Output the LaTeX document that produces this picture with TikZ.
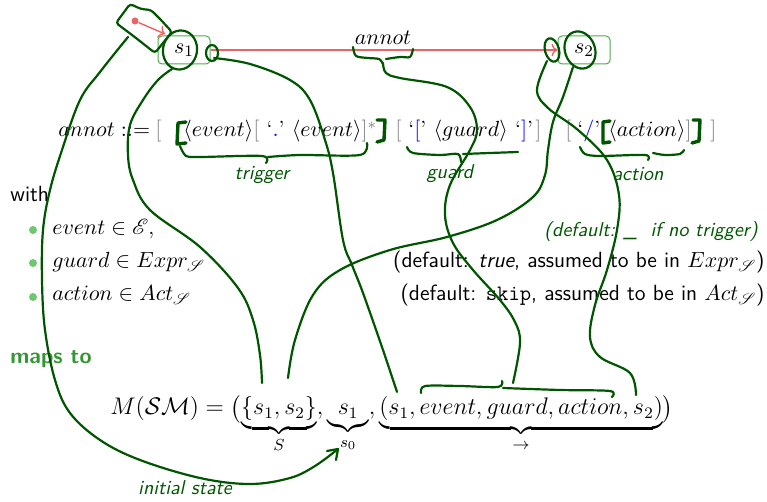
\documentclass[tikz,border=0pt]{standalone}
\usepackage{amsmath,amssymb}
\usepackage{mathrsfs}
\usetikzlibrary{arrows.meta,calc}
\definecolor{hand}{RGB}{0,85,0}
\definecolor{boxg}{RGB}{80,170,80}
\definecolor{mapg}{RGB}{50,150,50}
\definecolor{bul}{RGB}{110,200,110}
\definecolor{redl}{RGB}{235,100,100}
\tikzset{
  handline/.style={draw=hand, line width=1.1pt, line cap=round, line join=round},
  handbr/.style={draw=hand, line width=1.7pt, line cap=round, line join=round},
  stbox/.style={draw=boxg, rounded corners=2pt, minimum width=26pt, minimum height=14pt, line width=0.5pt, inner sep=0pt},
  txt/.style={inner sep=0pt, anchor=base west},
  redarrow/.style={draw=redl, line width=0.7pt, -{To[length=3pt]}},
  handtxt/.style={text=hand, font=\fontsize{10}{12}\selectfont\sffamily\slshape, inner sep=0pt},
}
\begin{document}
\begin{tikzpicture}[x=0.5pt,y=-0.5pt, font=\fontsize{11}{13}\selectfont]
\useasboundingbox (0,0) rectangle (767,502);
% states
\node[stbox] (s1) at (184,50) {$s_1$};
\node[stbox] (s2) at (584,50) {$s_2$};
\draw[redarrow] (s1) -- (s2);
\node[txt, anchor=base] (an) at (383,45) {$annot$};
\node[circle, fill=redl, inner sep=0pt, minimum size=3.5pt] (dot) at (135,21) {};
\coordinate (s1in) at (165,34);
\draw[redarrow] (dot) -- (s1in);
% grammar line
\node[txt] (g1) at (58,137) {$annot ::=$};
\node[txt, text=gray] (gb1) at (155,137) {$[$};
\node[txt] (g2) at (183,137) {$\langle event\rangle{\color{gray}[}\ \text{`}{\color{blue}.}\text{'}\ \langle event\rangle{\color{gray}]^*}$};
\node[txt, text=gray] (gb2) at (395,137) {$[$};
\node[txt] (g3) at (408,137) {$\text{`}{\color{blue}[}\text{'}\ \langle guard\rangle\ \text{`}{\color{blue}]}\text{'}$};
\node[txt, text=gray] (gb3) at (535,137) {$]$};
\node[txt, text=gray] (gb4) at (565,137) {$[$};
\node[txt] (g4) at (577,137) {$\text{`}{\color{blue}/}\text{'}$};
\node[txt] (g5) at (608,137) {$\langle action\rangle{\color{gray}]}$};
\node[txt, text=gray] (gb5) at (710,137) {$]$};
% with list
\node[txt] (with) at (10,202) {\sffamily with};
\foreach \yy/\nm in {230/b1,263/b2,297/b3}{
  \node[circle, fill=bul, inner sep=0pt, minimum size=4pt] (\nm) at (33,\yy) {};
}
\node[txt] (l1) at (52,235) {$event \in \mathscr{E}$,};
\node[txt] (l2) at (52,268) {$guard \in Expr_{\mathscr{S}}$};
\node[txt] (l3) at (52,301) {$action \in Act_{\mathscr{S}}$};
\node[txt, anchor=base east] (d2) at (765,268) {\sffamily (default: \textit{true}, assumed to be in $Expr_{\mathscr{S}}$)};
\node[txt, anchor=base east] (d3) at (765,301) {\sffamily (default: \texttt{skip}, assumed to be in $Act_{\mathscr{S}}$)};
\node[txt, text=mapg] (maps) at (10,364) {\sffamily\bfseries maps to};
\node[txt, font=\fontsize{11.5}{14}\selectfont] (mm) at (110,415) {$M(\mathcal{SM}) = \bigl(\underbrace{\{s_1,s_2\}}_{S}, \underbrace{\;s_1\;}_{s_0}, \underbrace{(s_1,event,guard,action,s_2)}_{\to}\bigr)$};
% ---------- handwriting ----------
% initial box
\draw[handline, rounded corners=1.5pt] (116,23) -- (130,4) -- (141,9) -- (151,10) -- (161,20) -- (172,32) -- (163,43) -- (155,53) -- (136,38) -- cycle;
% loops
\draw[handline, rotate around={-10:(180,50)}] (180,50) ellipse (8.5pt and 9.8pt);
\draw[handline] (212,53) ellipse (3pt and 4pt);
\draw[handline, rotate around={15:(552,50)}] (552,50) ellipse (3.5pt and 6pt);
\draw[handline, rotate around={20:(580,50)}] (580,50) ellipse (7.5pt and 9.5pt);
% curve A: s1 -> S s1
\draw[handline] plot[smooth, tension=0.6] coordinates {(172,69) (158,80) (143,100) (130,125) (128,155) (133,180) (150,210) (200,247) (238,288) (253,320) (260,355) (262,383)};
% curve B: s2 -> S s2
\draw[handline] plot[smooth, tension=0.6] coordinates {(573,67) (563,97) (553,122) (548,150) (545,175) (533,197) (497,220) (447,237) (390,250) (340,270) (313,295) (295,340) (288,378)};
% curve C: s1 -> tuple s1
\draw[handline] plot[smooth, tension=0.6] coordinates {(214,58) (250,64) (290,80) (310,100) (325,140) (333,173) (343,240) (352,265) (363,293) (383,350) (397,392)};
% curve D: annot -> overbrace
\draw[handline] plot[smooth, tension=0.6] coordinates {(383,63) (386,73) (400,78) (447,87) (470,107) (477,130) (470,150) (450,185) (445,215) (453,243) (473,270) (500,300) (515,322) (520,343) (513,383)};
% curve E: s2 -> tuple s2
\draw[handline] plot[smooth, tension=0.6] coordinates {(547,61) (537,90) (548,108) (578,130) (607,160) (619,195) (617,230) (607,270) (595,305) (590,337) (600,357) (630,373) (636,395)};
% curve F: initial -> s0
\draw[handline] plot[smooth, tension=0.6] coordinates {(128,37) (100,72) (80,100) (62,150) (50,190) (43,230) (42,280) (45,330) (55,380) (70,413) (100,440) (140,460) (200,478) (250,484) (290,478) (315,466) (338,449)};
\draw[handline] (327,451) -- (338,449) -- (336,460);
% annot brace
\draw[handline] plot[smooth, tension=0.5] coordinates {(353,47) (356,56) (368,58) (379,59) (383,64)};
\draw[handline] plot[smooth, tension=0.5] coordinates {(386,59) (400,57) (410,57) (413,49)};
% trigger brace and brackets
\draw[handline] plot[smooth, tension=0.5] coordinates {(180,146) (186,156) (200,157) (262,156) (266,163)};
\draw[handline] plot[smooth, tension=0.5] coordinates {(268,157) (300,155) (360,155) (367,143)};
\draw[handbr] (186,122) -- (178,123) -- (177,144) -- (186,143);
\draw[handbr] (377,120) -- (385,120) -- (384,140) -- (377,142);
% guard brace
\draw[handline] plot[smooth, tension=0.5] coordinates {(407,147) (413,153) (440,155) (458,154) (461,162)};
\draw[handline] plot[smooth, tension=0.5] coordinates {(463,154) (490,153) (518,152)};
% action brace and brackets
\draw[handline] plot[smooth, tension=0.5] coordinates {(580,147) (585,154) (600,156) (645,155) (648,160)};
\draw[handline] plot[smooth, tension=0.5] coordinates {(653,153) (665,155) (680,154) (684,150)};
\draw[handbr] (610,121) -- (603,122) -- (603,143) -- (610,142);
\draw[handbr] (693,120) -- (700,120) -- (699,141) -- (692,143);
% tuple overbrace
\draw[handline] plot[smooth, tension=0.5] coordinates {(421,393) (425,386) (460,386) (498,387) (502,381)};
\draw[handline] plot[smooth, tension=0.5] coordinates {(503,388) (560,390) (610,391) (612,397)};
% handwritten labels
\node[handtxt] (ht) at (262,175) {trigger};
\node[handtxt] (hg) at (450,174) {guard};
\node[handtxt] (ha) at (638,174) {action};
\node[handtxt] (hd) at (651,232) {(default: \_\ \ if no trigger)};
\node[handtxt] (hi) at (185,488) {initial state};
\end{tikzpicture}
\end{document}
